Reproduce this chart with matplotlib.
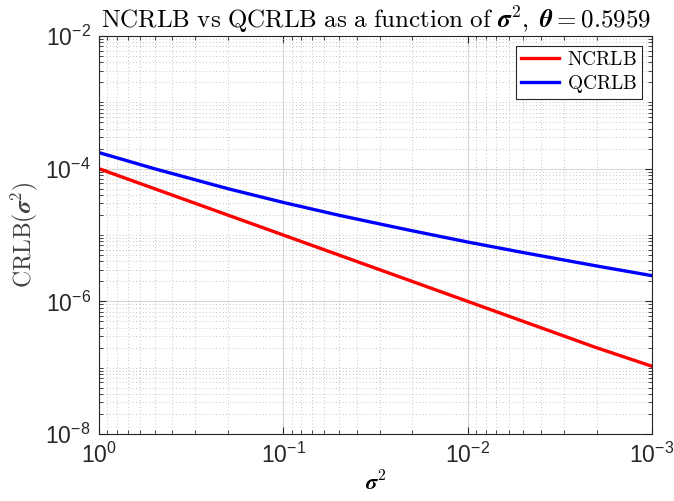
import numpy as np
import matplotlib
matplotlib.use("Agg")
import matplotlib.pyplot as plt
from matplotlib.ticker import LogLocator, NullFormatter, FixedLocator

plt.rcParams['mathtext.fontset'] = 'cm'
plt.rcParams['font.family'] = ['Liberation Sans', 'DejaVu Sans']

sigma2 = [1.0, 0.5, 0.3, 0.2, 0.1, 0.05, 0.03, 0.02, 0.01, 0.005, 0.003, 0.002, 0.001]
ncrlb = [1.0e-4, 5.0e-5, 3.0e-5, 2.0e-5, 1.0e-5, 5.0e-6, 3.0e-6, 2.0e-6, 1.0e-6, 5.0e-7, 3.0e-7, 2.0e-7, 1.05e-7]
qcrlb = [1.75e-4, 1.0e-4, 6.8e-5, 5.0e-5, 3.1e-5, 1.99e-5, 1.47e-5, 1.16e-5, 7.85e-6, 5.45e-6, 4.2e-6, 3.42e-6, 2.44e-6]

fig = plt.figure(figsize=(6.74, 5.01), dpi=100)
ax = fig.add_axes([0.1469, 0.1337, 0.8205, 0.7943])

ax.loglog(sigma2, ncrlb, color='#ff0000', lw=2.4, label=r'$\mathrm{NCRLB}$')
ax.loglog(sigma2, qcrlb, color='#0000ff', lw=2.4, label=r'$\mathrm{QCRLB}$')

ax.set_xlim(1, 1e-3)
ax.set_ylim(1e-8, 1e-2)
ax.xaxis.set_major_locator(FixedLocator([1, 1e-1, 1e-2, 1e-3]))
ax.yaxis.set_major_locator(FixedLocator([1e-8, 1e-6, 1e-4, 1e-2]))
ax.xaxis.set_minor_locator(LogLocator(base=10, subs=np.arange(2, 10), numticks=20))
ax.yaxis.set_minor_locator(LogLocator(base=10, subs=np.arange(1, 10), numticks=20))
ax.xaxis.set_minor_formatter(NullFormatter())
ax.yaxis.set_minor_formatter(NullFormatter())

ax.grid(True, which='major', color='#d9d9d9', lw=0.8, ls='-')
ax.grid(True, which='minor', color='#b0b0b0', lw=0.6, ls=(0, (1, 3)))
ax.set_axisbelow(True)

ax.tick_params(which='both', direction='in', top=True, right=True, color='#262626')
ax.tick_params(which='major', length=5, labelsize=16.5, labelcolor='#262626', pad=6)
ax.tick_params(which='minor', length=3)
for s in ax.spines.values():
    s.set_color('#262626')
    s.set_linewidth(0.8)

ax.set_title(r'$\mathrm{NCRLB\ vs\ QCRLB\ as\ a\ function\ of\ }\boldsymbol{\sigma}^2\mathrm{,\ }\boldsymbol{\theta}=\mathrm{0.5959}$',
             fontsize=18, pad=6)
ax.set_xlabel(r'$\boldsymbol{\sigma}^2$', fontsize=16, labelpad=3)
ax.set_ylabel(r'$\mathrm{CRLB}(\boldsymbol{\sigma}^2)$', fontsize=17, labelpad=4, color='#404040')

leg = ax.legend(loc='upper right', fontsize=14, fancybox=False, edgecolor='#262626',
                framealpha=1, handlelength=2.0, borderpad=0.25, labelspacing=0.2,
                handletextpad=0.4, borderaxespad=0.5)
leg.get_frame().set_linewidth(0.8)

fig.savefig('out.png', dpi=100)
